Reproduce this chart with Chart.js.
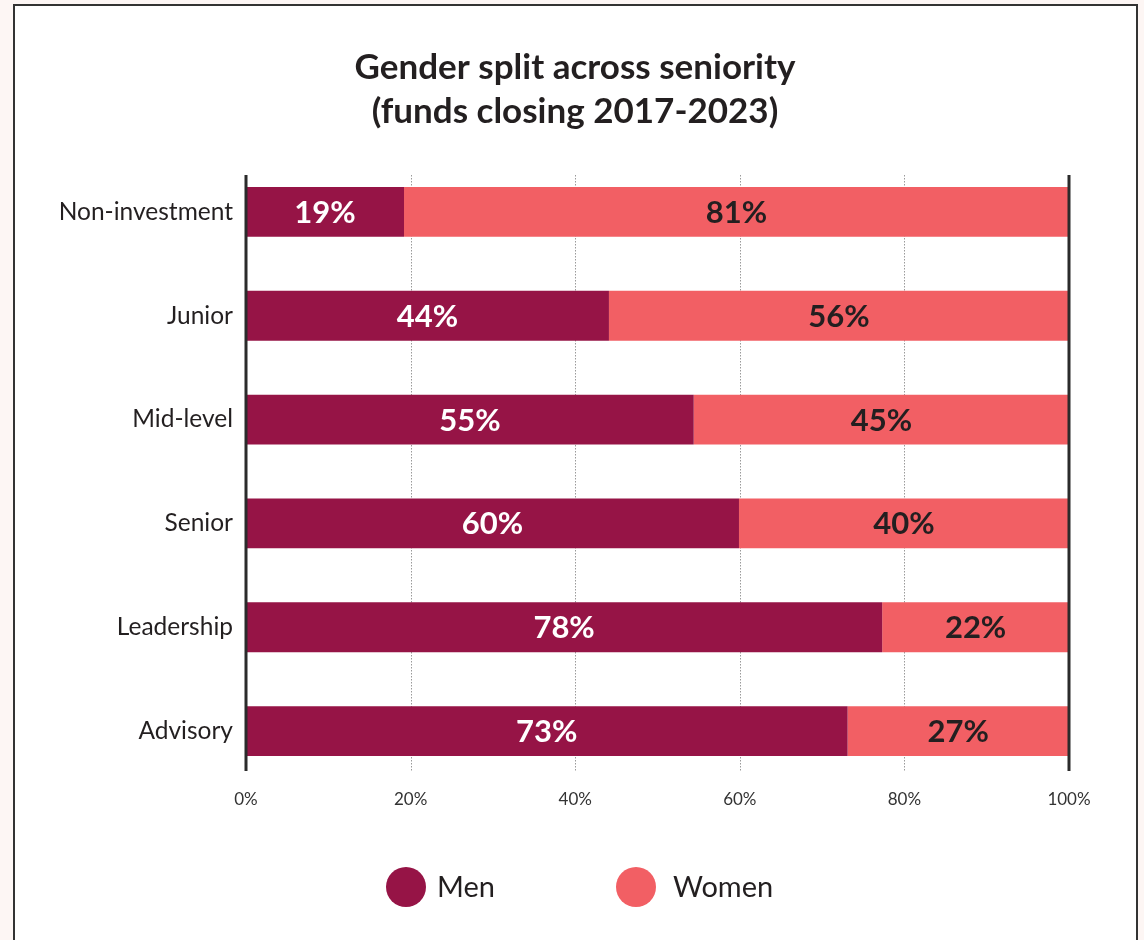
<!DOCTYPE html>
<html>
<head>
<meta charset="utf-8">
<script src="https://cdn.jsdelivr.net/npm/chart.js@4.4.1/dist/chart.umd.min.js"></script>
<style>
  html, body { margin: 0; padding: 0; background: #fdf6f4; }
  body { width: 1144px; height: 940px; position: relative; overflow: hidden; }
  #panel { position: absolute; left: 13px; top: 4px; width: 1121px; height: 980px; border: 2px solid #333; background: #fff; }
  #wrap { position: absolute; left: 0; top: 0; width: 1144px; height: 940px; }
</style>
</head>
<body>
<div id="panel"></div>
<div id="wrap"><canvas id="c" width="1144" height="940"></canvas></div>
<script>
const categories = ['Non-investment', 'Junior', 'Mid-level', 'Senior', 'Leadership', 'Advisory'];
const menValues = [19.2, 44.1, 54.4, 59.9, 77.3, 73.1];
const womenValues = [80.8, 55.9, 45.6, 40.1, 22.7, 26.9];
const menLabels = ['19%', '44%', '55%', '60%', '78%', '73%'];
const womenLabels = ['81%', '56%', '45%', '40%', '22%', '27%'];
const xTicks = [0, 20, 40, 60, 80, 100];
const titleLines = ['Gender split across seniority', '(funds closing 2017-2023)'];

const MEN = '#961446';
const WOMEN = '#f25f64';
const DARK = '#231f20';
const FONT = 'Lato, "Open Sans", sans-serif';

const gridPlugin = {
  id: 'customGrid',
  beforeDatasetsDraw(chart) {
    const { ctx, chartArea, scales: { x } } = chart;
    const top = chartArea.top + 15, bottom = chartArea.bottom - 12;
    ctx.save();
    ctx.strokeStyle = '#9a9a9a';
    ctx.lineWidth = 1;
    ctx.setLineDash([1.5, 1.5]);
    xTicks.forEach(v => {
      if (v === 0 || v === 100) return;
      const px = Math.round(x.getPixelForValue(v)) + 0.5;
      ctx.beginPath(); ctx.moveTo(px, top); ctx.lineTo(px, bottom); ctx.stroke();
    });
    ctx.restore();
  },
  afterDatasetsDraw(chart) {
    const { ctx, chartArea, scales: { x } } = chart;
    const top = chartArea.top + 15, bottom = chartArea.bottom - 12;
    ctx.save();
    ctx.strokeStyle = '#2b2b2b';
    ctx.lineWidth = 3;
    [0, 100].forEach(v => {
      const px = x.getPixelForValue(v);
      ctx.beginPath(); ctx.moveTo(px, top); ctx.lineTo(px, bottom); ctx.stroke();
    });
    const labelSets = [menLabels, womenLabels];
    const colors = ['#ffffff', DARK];
    ctx.font = 'bold 31px ' + FONT;
    ctx.textAlign = 'center';
    ctx.textBaseline = 'middle';
    chart.data.datasets.forEach((ds, di) => {
      const meta = chart.getDatasetMeta(di);
      meta.data.forEach((bar, i) => {
        const cx = (bar.x + bar.base) / 2;
        ctx.fillStyle = colors[di];
        ctx.fillText(labelSets[di][i], cx, bar.y + 1);
      });
    });
    ctx.restore();
  },
  afterDraw(chart) {
    const { ctx, width } = chart;
    ctx.save();
    // title
    ctx.font = 'bold 35px ' + FONT;
    ctx.textAlign = 'center';
    ctx.textBaseline = 'middle';
    ctx.fillStyle = DARK;
    titleLines.forEach((t, i) => ctx.fillText(t, width / 2 + 3, 68 + i * 44));
    // legend
    ctx.font = '29px ' + FONT;
    ctx.textAlign = 'left';
    const items = [
      { label: chart.data.datasets[0].label, color: MEN, cx: 406, tx: 437 },
      { label: chart.data.datasets[1].label, color: WOMEN, cx: 636, tx: 673 }
    ];
    const cy = 887;
    items.forEach(it => {
      ctx.fillStyle = it.color;
      ctx.beginPath(); ctx.arc(it.cx, cy, 20, 0, Math.PI * 2); ctx.fill();
      ctx.fillStyle = DARK;
      ctx.fillText(it.label, it.tx, cy + 1);
    });
    ctx.restore();
  }
};

new Chart(document.getElementById('c'), {
  type: 'bar',
  data: {
    labels: categories,
    datasets: [
      { label: 'Men', data: menValues, backgroundColor: MEN, barPercentage: 0.48, categoryPercentage: 1 },
      { label: 'Women', data: womenValues, backgroundColor: WOMEN, barPercentage: 0.48, categoryPercentage: 1 }
    ]
  },
  options: {
    indexAxis: 'y',
    responsive: false,
    animation: false,
    layout: { padding: { left: 0, right: 75, top: 160, bottom: 0 } },
    plugins: {
      legend: { display: false },
      tooltip: { enabled: false },
      title: { display: false }
    },
    scales: {
      x: {
        stacked: true,
        min: 0, max: 100,
        afterBuildTicks: s => { s.ticks = xTicks.map(v => ({ value: v })); },
        afterFit: s => { s.height = 157; },
        grid: { display: false, drawTicks: false },
        border: { display: false },
        ticks: {
          padding: 6,
          color: '#333',
          font: { family: FONT, size: 17 },
          callback: v => v + '%'
        }
      },
      y: {
        stacked: true,
        afterFit: s => { s.width = 246; },
        grid: { display: false, drawTicks: false },
        border: { display: false },
        ticks: {
          padding: 13,
          color: DARK,
          font: { family: FONT, size: 24.5 }
        }
      }
    }
  },
  plugins: [gridPlugin]
});
</script>
</body>
</html>
